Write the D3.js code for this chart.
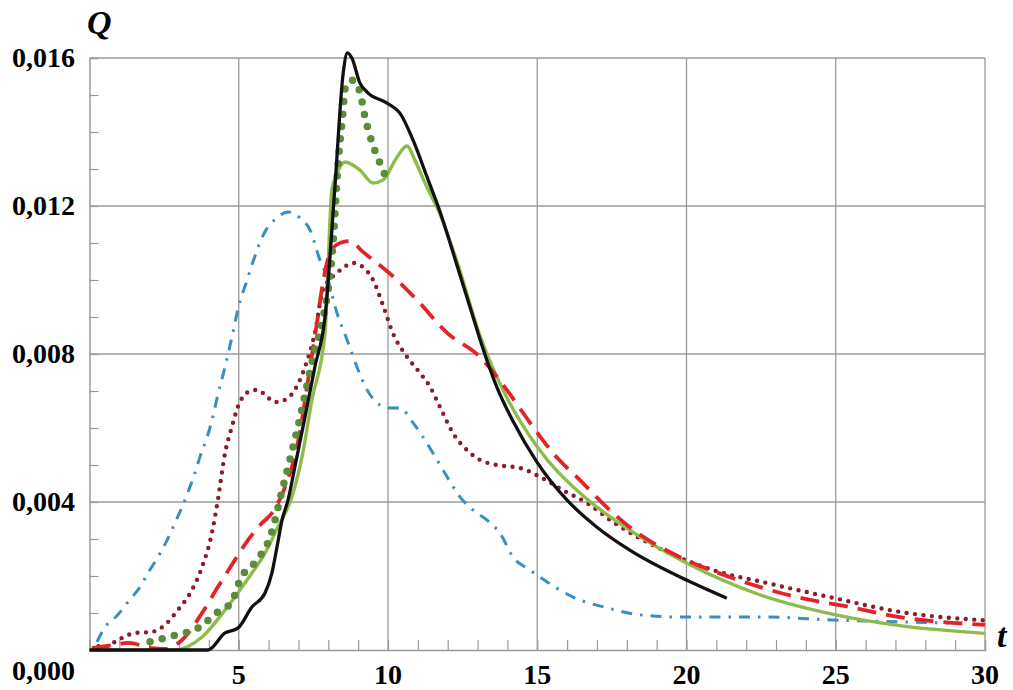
<!DOCTYPE html>
<html>
<head>
<meta charset="utf-8">
<script src="https://cdn.jsdelivr.net/npm/d3@7"></script>
<style>
  body { margin:0; background:#fff; }
</style>
</head>
<body>
<div id="chart"></div>
<script>
// t values and Q values, one pair of arrays per curve
let blackT = [0, 3.97, 4.54, 4.97, 5.44, 5.88, 6.11, 6.28, 6.45, 6.65, 6.88, 7.22, 7.55, 7.89, 8.22, 8.5, 8.64, 8.79, 9.06, 9.3, 9.97, 10.4, 10.84, 11.31, 11.74, 12.31, 12.85, 13.08, 13.65, 14.19, 14.99, 16.0, 17.0, 18.1, 20.0, 21.35]
let blackQ = [0, 0, 0.00046, 0.00059, 0.00116, 0.00154, 0.00208, 0.00278, 0.00351, 0.00405, 0.00495, 0.0063, 0.00765, 0.009, 0.0125, 0.0156, 0.01614, 0.016, 0.01532, 0.01508, 0.01478, 0.01451, 0.01378, 0.01278, 0.01185, 0.0104, 0.0090, 0.0084, 0.0071, 0.00618, 0.00508, 0.00405, 0.00332, 0.0027, 0.00189, 0.0014]

let greenT = [0, 2.86, 3.77, 4.54, 4.97, 5.44, 5.88, 6.31, 6.78, 7.12, 7.45, 7.89, 8.12, 8.28, 8.56, 9.06, 9.5, 9.83, 10.3, 10.64, 10.9, 11.24, 11.74, 12.31, 13.08, 13.75, 14.99, 16.43, 18.1, 20.0, 22.5, 25.0, 27.15, 30]
let greenQ = [0, 0, 0.00035, 0.00108, 0.00154, 0.00208, 0.00262, 0.00332, 0.00414, 0.00522, 0.00676, 0.00857, 0.01243, 0.01285, 0.01319, 0.01297, 0.01262, 0.0127, 0.01332, 0.01362, 0.01324, 0.01262, 0.01178, 0.0105, 0.0085, 0.0072, 0.0055, 0.00424, 0.00324, 0.00235, 0.00148, 0.00095, 0.00066, 0.00045]

let greenDotT = [2.03, 2.86, 3.63, 4.3, 4.77, 5.04, 5.61, 6.05, 6.48, 6.98, 7.55, 7.79, 8.16, 8.33, 8.46, 8.59, 8.83, 9.06, 9.23, 9.46, 9.8, 9.97]
let greenDotQ = [0.00022, 0.0004, 0.00059, 0.00103, 0.0013, 0.00189, 0.00243, 0.00305, 0.0044, 0.00603, 0.0081, 0.00884, 0.011, 0.01316, 0.01427, 0.01527, 0.0154, 0.01508, 0.0144, 0.01373, 0.01303, 0.0127]

let redT = [0.08, 0.85, 1.29, 2.09, 2.53, 3.1, 3.77, 4.3, 4.87, 5.31, 5.78, 6.11, 6.55, 6.98, 7.39, 7.62, 7.82, 8.06, 8.39, 8.73, 9.16, 9.63, 10.3, 10.97, 11.98, 13.08, 13.98, 14.76, 15.53, 16.43, 17.54, 18.1, 19.78, 21.46, 23.8, 25.48, 27.15, 30]
let redQ = [0.00005, 0.00014, 0.00019, 0.00005, 0.00003, 0.00027, 0.001, 0.0017, 0.00243, 0.00297, 0.00343, 0.0037, 0.0044, 0.0056, 0.00765, 0.00884, 0.00992, 0.01073, 0.011, 0.01105, 0.01076, 0.01046, 0.01, 0.00946, 0.00857, 0.00792, 0.00703, 0.00614, 0.00532, 0.00459, 0.0037, 0.00332, 0.00251, 0.00197, 0.00141, 0.00116, 0.00089, 0.00068]

let redDotT = [0.3, 0.52, 0.95, 1.52, 2.09, 2.53, 2.96, 3.43, 3.77, 4.1, 4.3, 4.54, 4.77, 4.97, 5.31, 5.64, 5.95, 6.21, 6.55, 6.88, 7.22, 7.55, 7.82, 8.29, 8.63, 8.83, 9.16, 9.5, 9.83, 10.16, 10.64, 11.07, 11.41, 11.74, 12.18, 12.65, 13.08, 13.65, 14.42, 15.09, 15.86, 16.67, 17.54, 19.21, 20.89, 22.7, 24.91, 27.15, 30]
let redDotQ = [0.0001, 0.00008, 0.00027, 0.00046, 0.00049, 0.00068, 0.00108, 0.00162, 0.00224, 0.00316, 0.00405, 0.00532, 0.00603, 0.00657, 0.00697, 0.00703, 0.00684, 0.0067, 0.00676, 0.00703, 0.00765, 0.00857, 0.00973, 0.01019, 0.0104, 0.01046, 0.01035, 0.01, 0.00932, 0.00857, 0.00792, 0.00749, 0.00711, 0.00657, 0.00586, 0.0054, 0.00514, 0.005, 0.00492, 0.00468, 0.00432, 0.00397, 0.00346, 0.0027, 0.00216, 0.00181, 0.00141, 0.00103, 0.0008]

let blueT = [0.25, 0.52, 0.95, 1.29, 1.69, 1.96, 2.29, 2.6, 2.86, 3.1, 3.3, 3.53, 3.7, 3.94, 4.1, 4.3, 4.54, 4.81, 4.97, 5.28, 5.48, 5.81, 6.28, 6.65, 7.05, 7.39, 7.72, 7.96, 8.29, 8.63, 8.96, 9.3, 9.73, 10.07, 10.4, 10.84, 11.17, 11.51, 11.98, 12.41, 12.85, 13.32, 13.75, 14.19, 14.76, 15.33, 16.2, 17.34, 18.44, 19.78, 22.7, 24.9, 27.15, 28.8]
let blueQ = [0.00022, 0.00062, 0.00095, 0.0013, 0.0017, 0.00208, 0.00251, 0.00297, 0.00343, 0.00386, 0.00427, 0.00478, 0.00522, 0.00575, 0.0062, 0.0069, 0.00765, 0.0086, 0.0092, 0.0100, 0.0105, 0.0112, 0.01168, 0.01184, 0.01168, 0.01135, 0.01054, 0.01008, 0.00911, 0.00838, 0.00765, 0.00703, 0.00662, 0.00654, 0.00654, 0.00614, 0.00576, 0.00532, 0.00468, 0.00414, 0.00378, 0.00351, 0.00316, 0.00251, 0.00216, 0.00184, 0.00143, 0.00114, 0.00095, 0.00089, 0.00089, 0.00081, 0.00076, 0.00073]

let xTicks = [5, 10, 15, 20, 25, 30]
let yTicks = [0.004, 0.008, 0.012, 0.016]
let yLabels = ["0,004", "0,008", "0,012", "0,016"]

let width = 1013, height = 690,
    margin = { top:58, left:89.5, right:28, bottom:40 }

let serif = "'Liberation Serif', 'Times New Roman', 'DejaVu Serif', serif"

let xScale = d3.scaleLinear().domain([0, 30]).range([margin.left, width - margin.right])
let yScale = d3.scaleLinear().domain([0, 0.016]).range([height - margin.bottom, margin.top])

let svg = d3.select("#chart").append("svg")
  .attr("width", width)
  .attr("height", height)

let gridColor = "#9a9a9a"

// grid
svg.append("g").selectAll("line").data(xTicks).enter().append("line")
  .attr("x1", d => xScale(d)).attr("x2", d => xScale(d))
  .attr("y1", yScale(0)).attr("y2", yScale(0.016))
  .attr("stroke", gridColor).attr("stroke-width", 1.3)
svg.append("g").selectAll("line").data(yTicks).enter().append("line")
  .attr("x1", xScale(0)).attr("x2", xScale(30))
  .attr("y1", d => yScale(d)).attr("y2", d => yScale(d))
  .attr("stroke", gridColor).attr("stroke-width", 1.3)

// axes with inner minor ticks
let xAxis = d3.axisBottom(xScale).tickValues(d3.range(1, 30)).tickSize(-10).tickFormat("")
let yAxis = d3.axisLeft(yScale).tickValues(d3.range(1, 16).map(d => d * 0.001)).tickSize(-9).tickFormat("")
let xg = svg.append("g").attr("transform", `translate(0,${yScale(0)})`).call(xAxis)
let yg = svg.append("g").attr("transform", `translate(${xScale(0)},0)`).call(yAxis)
xg.select(".domain").attr("stroke", gridColor).attr("stroke-width", 1.5)
yg.select(".domain").attr("stroke", gridColor).attr("stroke-width", 1.5)
svg.selectAll(".tick line").attr("stroke", gridColor).attr("stroke-width", 1.2)

// tick labels
svg.append("g").selectAll("text").data(xTicks).enter().append("text")
  .style("font-family", serif).style("font-weight", "bold")
  .attr("x", d => xScale(d)).attr("y", 684)
  .attr("text-anchor", "middle").attr("font-size", 28)
  .text(d => d)
svg.append("g").selectAll("text").data(yTicks).enter().append("text")
  .style("font-family", serif).style("font-weight", "bold")
  .attr("x", 75).attr("y", d => yScale(d) + 9)
  .attr("text-anchor", "end").attr("font-size", 28)
  .text((d, i) => yLabels[i])
svg.append("text")
  .style("font-family", serif).style("font-weight", "bold")
  .attr("x", 75).attr("y", 680)
  .attr("text-anchor", "end").attr("font-size", 28)
  .text("0,000")

svg.append("text")
  .style("font-family", serif).style("font-weight", "bold").style("font-style", "italic")
  .attr("x", 87).attr("y", 34).attr("font-size", 34)
  .text("Q")
svg.append("text")
  .style("font-family", serif).style("font-weight", "bold").style("font-style", "italic")
  .attr("x", 997).attr("y", 647).attr("font-size", 34)
  .text("t")

let line = d3.line()
  .x(d => xScale(d[0]))
  .y(d => yScale(d[1]))
  .curve(d3.curveMonotoneX)

let series = [
  { t: blueT, q: blueQ, color: "#3b8dc2", w: 3, dash: "11,8,2.5,8", cap: "butt" },
  { t: redDotT, q: redDotQ, color: "#8e1b2a", w: 4.4, dash: "0,8.5", cap: "round" },
  { t: greenT, q: greenQ, color: "#8dbb4c", w: 3.4, dash: null, cap: "butt" },
  { t: redT, q: redQ, color: "#e3232a", w: 3.8, dash: "19,10", cap: "butt" },
  { t: greenDotT, q: greenDotQ, color: "#5a8c3c", w: 7.5, dash: "0,12.5", cap: "round" },
  { t: blackT, q: blackQ, color: "#111", w: 3.3, dash: null, cap: "butt" }
]

svg.append("g").selectAll("path").data(series).enter().append("path")
  .attr("d", s => line(s.t.map((t, i) => [t, s.q[i]])))
  .attr("fill", "none")
  .attr("stroke", s => s.color)
  .attr("stroke-width", s => s.w)
  .attr("stroke-dasharray", s => s.dash)
  .attr("stroke-linecap", s => s.cap)
  .attr("stroke-linejoin", "round")
</script>
</body>
</html>
